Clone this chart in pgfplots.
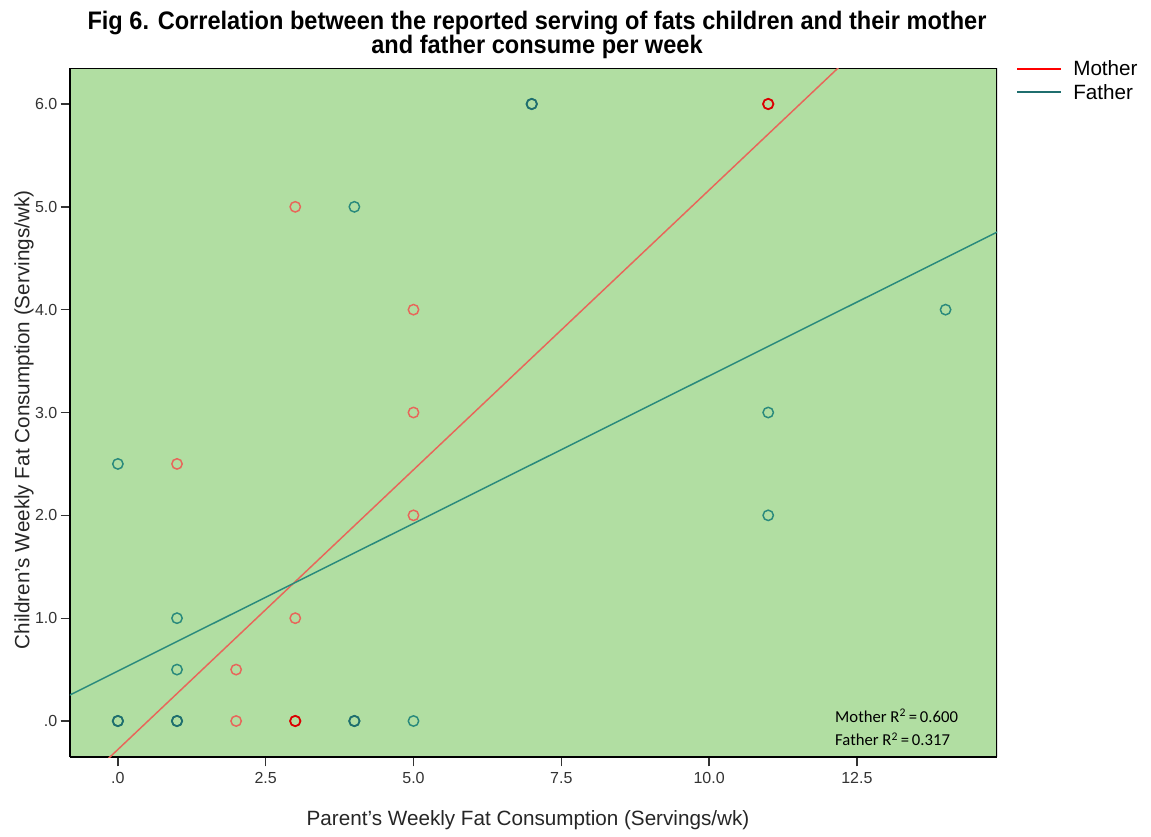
\documentclass[border=0pt]{standalone}
\usepackage{pgfplots}
\pgfplotsset{compat=1.18}
\usepackage{fontspec}
\setmainfont{Liberation Sans}
\newfontfamily\titlefont[FakeStretch=0.93]{Liberation Sans}
\newfontfamily\calfont{Carlito}
\definecolor{bg}{HTML}{B1DEA2}
\definecolor{mom}{HTML}{E8665A}
\definecolor{dad}{HTML}{2A8A7C}
\definecolor{dadleg}{HTML}{1F6E6E}
\begin{document}
\begin{tikzpicture}
\path[use as bounding box] (-52.5pt,-59.25pt) rectangle (810.75pt,567.75pt);
\begin{axis}[
  name=ax,
  at={(0pt,0pt)}, anchor=south west,
  scale only axis, width=695.25pt, height=516.75pt,
  xmin=-0.81, xmax=14.87, ymin=-0.35, ymax=6.35,
  axis background/.style={fill=bg},
  axis line style={black, line width=0.8pt},
  xtick={0,2.5,5,7.5,10,12.5},
  xticklabels={.0,2.5,5.0,7.5,10.0,12.5},
  ytick={0,1,2,3,4,5,6},
  yticklabels={.0,1.0,2.0,3.0,4.0,5.0,6.0},
  tick align=outside, major tick length=7pt,
  tick style={black!80, line width=1pt},
  axis x line*=bottom, axis y line*=left,
  ticklabel style={font=\fontsize{12pt}{13pt}\selectfont, text=black!80},
  x tick label style={yshift=-1pt},
  y tick label style={xshift=1pt},
  clip=true,
]
\draw[black, line width=0.8pt] (rel axis cs:0,1) -- (rel axis cs:1,1) -- (rel axis cs:1,0);
% fit lines
\addplot[mom, line width=1.1pt] coordinates {(-1,-0.821) (13,6.795)};
\addplot[dad, line width=1.1pt] coordinates {(-1,0.199) (15,4.791)};
% mother points
\addplot[only marks, mark=o, mark size=3.9pt, mom, line width=1.1pt] coordinates {
(1,2.5) (3,5) (5,4) (5,3) (5,2) (3,1) (2,0.5) (2,0) (3,0) (11,6)
};
\addplot[only marks, mark=o, mark size=3.9pt, red!85!black, line width=1.3pt] coordinates {
(3,0) (11,6)
};
% father points
\addplot[only marks, mark=o, mark size=3.9pt, dad, line width=1.1pt] coordinates {
(0,2.5) (4,5) (7,6) (14,4) (11,3) (11,2) (1,1) (1,0.5) (0,0) (1,0) (4,0) (5,0)
};
\addplot[only marks, mark=o, mark size=3.9pt, dadleg, line width=1.3pt] coordinates {
(7,6) (0,0) (1,0) (4,0)
};
\node[anchor=base west, inner sep=0pt, font=\calfont\fontsize{12.5pt}{15pt}\selectfont]
  at (rel axis cs:0.8252,0.0508) {Mother R\textsuperscript{2}\,=\,0.600};
\node[anchor=base west, inner sep=0pt, font=\calfont\fontsize{12.5pt}{15pt}\selectfont]
  at (rel axis cs:0.8252,0.016) {Father R\textsuperscript{2}\,=\,0.317};
\end{axis}
% legend
\draw[red, line width=2pt] (710.25pt,516pt) -- (743.25pt,516pt);
\node[anchor=base west, font=\fontsize{15.5pt}{17pt}\selectfont, inner sep=0pt] at (752.25pt,510.75pt) {Mother};
\draw[dadleg, line width=2pt] (710.25pt,498.75pt) -- (743.25pt,498.75pt);
\node[anchor=base west, font=\fontsize{15.5pt}{17pt}\selectfont, inner sep=0pt] at (752.25pt,492.75pt) {Father};
% axis labels
\node[rotate=90, anchor=center, font=\fontsize{15.5pt}{17pt}\selectfont, text=black!85]
  at (-34.5pt,252.75pt) {Children's Weekly Fat Consumption (Servings/wk)};
\node[anchor=base, font=\fontsize{15.5pt}{17pt}\selectfont, text=black!85]
  at (343.5pt,-51pt) {Parent's Weekly Fat Consumption (Servings/wk)};
% title
\node[anchor=base, inner sep=0pt, font=\titlefont\bfseries\fontsize{19pt}{20pt}\selectfont]
  at (350.25pt,545.25pt) {Fig 6. Correlation between the reported serving of fats children and their mother};
\node[anchor=base, inner sep=0pt, font=\titlefont\bfseries\fontsize{19pt}{20pt}\selectfont]
  at (350.25pt,527.25pt) {and father consume per week};
\end{tikzpicture}
\end{document}
